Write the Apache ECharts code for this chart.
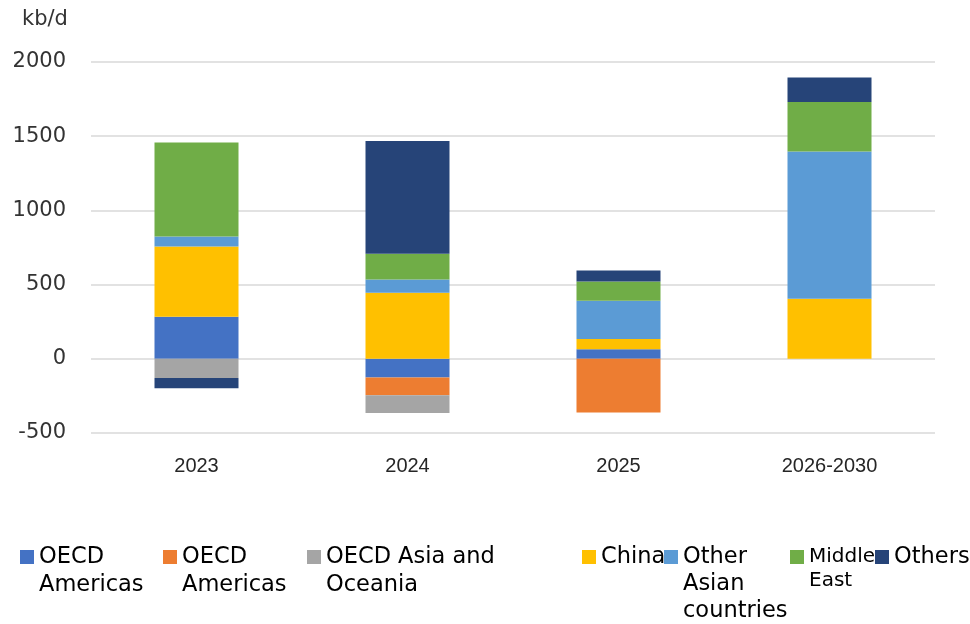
<!DOCTYPE html>
<html>
<head>
<meta charset="utf-8">
<script src="https://cdn.jsdelivr.net/npm/echarts@6/dist/echarts.min.js"></script>
<style>
html,body{margin:0;padding:0;background:#fff;}
#chart{width:970px;height:624px;}
</style>
</head>
<body>
<div id="chart"></div>
<script>
// ---- data ----
const categories = ['2023', '2024', '2025', '2026-2030'];
const seriesNames = ['OECD Americas', 'OECD Europe', 'OECD Asia Oceania', 'China', 'Other Asian countries', 'Middle East', 'Others'];
const legendLabels = ['OECD\nAmericas', 'OECD\nAmericas', 'OECD Asia and\nOceania', 'China', 'Other\nAsian\ncountries', 'Middle\nEast', 'Others'];
const oecdAmericas = [283, -126, 65, 0];
const oecdEurope = [0, -119, -362, 0];
const oecdAsiaOceania = [-130, -121, 0, 0];
const china = [474, 445, 68, 404];
const otherAsian = [67, 89, 258, 993];
const middleEast = [633, 174, 130, 333];
const others = [-68, 759, 74, 166];
const yTicks = [-500, 0, 500, 1000, 1500, 2000];
const unitLabel = 'kb/d';

// ---- styling ----
const values = [oecdAmericas, oecdEurope, oecdAsiaOceania, china, otherAsian, middleEast, others];
const colors = ['#4472C4', '#ED7D31', '#A5A5A5', '#FFC000', '#5B9BD5', '#70AD47', '#264478'];
const legendLeft = [20, 163, 307, 582, 664, 790, 875];
const legendFont = [22.5, 22.5, 22.5, 22.5, 22.5, 20, 22.5];
const legendLH = [28, 28, 28, 28, 27, 24, 28];

const chart = echarts.init(document.getElementById('chart'), null, {renderer: 'canvas'});

const legends = seriesNames.map((name, i) => {
  const lines = legendLabels[i].split('\n');
  const n = lines.length;
  const L = legendLH[i];
  // pad with empty lines above so that the icon sits beside the first line
  const padded = '\n'.repeat(n - 1) + legendLabels[i];
  return {
    data: [name],
    left: legendLeft[i],
    top: 550 - ((2 * n - 1) * L / 2 - 7),
    padding: 0,
    itemWidth: 14,
    itemHeight: 14,
    icon: 'rect',
    selectedMode: false,
    formatter: () => padded,
    textStyle: {
      fontFamily: 'DejaVu Sans',
      fontSize: legendFont[i],
      lineHeight: L,
      color: '#000'
    }
  };
});

const option = {
  animation: false,
  backgroundColor: '#fff',
  grid: {left: 91, right: 35, top: 62, bottom: 191, containLabel: false},
  legend: legends,
  graphic: [{
    type: 'text', left: 22, top: 9,
    style: {text: unitLabel, font: '21px "DejaVu Sans"', fill: '#333'}
  }],
  xAxis: {
    type: 'category',
    data: categories,
    axisLine: {show: false},
    axisTick: {show: false},
    axisLabel: {
      margin: 23,
      fontFamily: "'Liberation Sans'",
      fontSize: 20,
      color: '#262626'
    }
  },
  yAxis: {
    type: 'value',
    min: yTicks[0],
    max: yTicks[yTicks.length - 1],
    interval: 500,
    axisLine: {show: false},
    axisTick: {show: false},
    splitLine: {lineStyle: {color: '#d9d9d9', width: 1.5}},
    axisLabel: {
      margin: 25,
      fontFamily: 'DejaVu Sans',
      fontSize: 21,
      color: '#333',
      formatter: v => String(v)
    }
  },
  series: seriesNames.map((name, i) => ({
    name: name,
    type: 'bar',
    stack: 'total',
    barWidth: 84,
    data: values[i],
    itemStyle: {color: colors[i]}
  }))
};
chart.setOption(option);
</script>
</body>
</html>
